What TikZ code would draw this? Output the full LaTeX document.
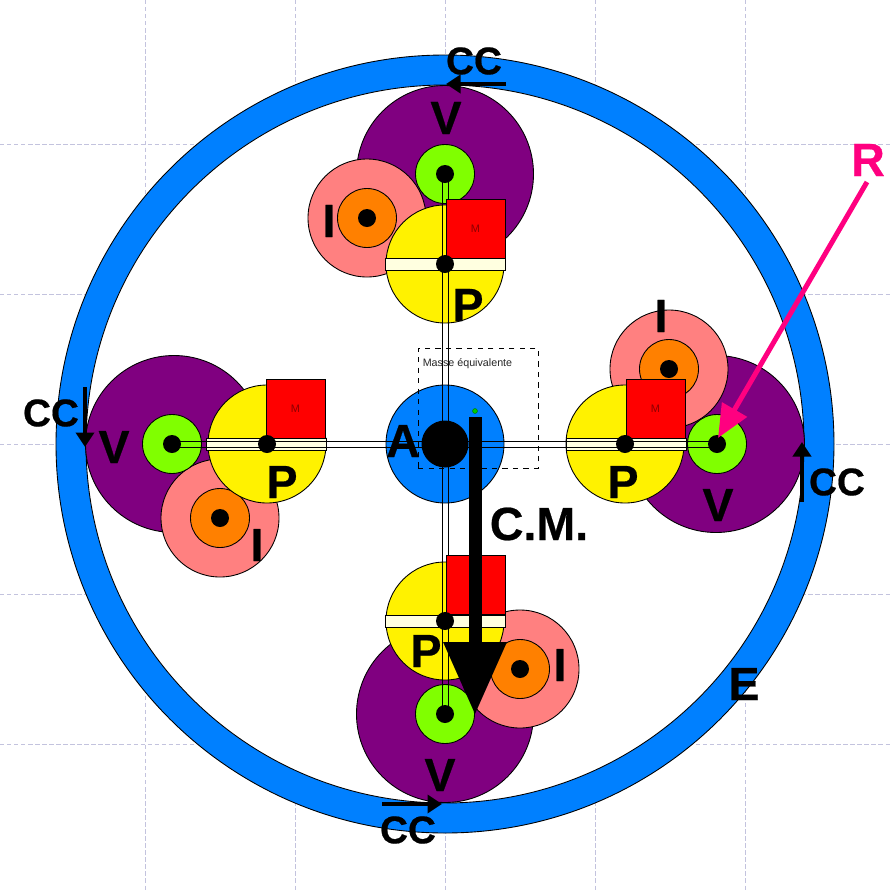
\documentclass[tikz,border=0pt]{standalone}
\usepackage{fontspec}
\setmainfont[BoldFeatures={FakeBold=0.5}]{Liberation Sans}
\usetikzlibrary{arrows.meta}
\definecolor{ringblue}{RGB}{0,128,255}
\definecolor{planetv}{RGB}{128,0,128}
\definecolor{camgreen}{RGB}{128,255,0}
\definecolor{salmon}{RGB}{255,128,128}
\definecolor{camorange}{RGB}{255,128,0}
\definecolor{barcream}{RGB}{255,255,224}
\definecolor{hotpink}{RGB}{255,0,128}
\definecolor{gridline}{RGB}{195,195,222}

\tikzset{
  disc/.style={circle, draw=black, line width=0.5pt, inner sep=0pt, minimum size=#1*0.02cm},
  pin/.style={circle, fill=black, inner sep=0pt, minimum size=#1*0.02cm},
  barbox/.style={draw=black, line width=0.5pt, fill=barcream, inner sep=0pt, minimum width=2.4cm, minimum height=0.24cm},
  massbox/.style={draw=black, line width=0.5pt, fill=red, text=red!55!black, inner sep=0pt, minimum width=1.18cm, minimum height=1.18cm, font=\fontsize{6.2}{7}\selectfont},
  lbl/.style={font=\fontsize{26.5}{28}\selectfont\bfseries, inner sep=0pt},
  cclbl/.style={font=\fontsize{22}{24}\selectfont\bfseries, inner sep=0pt},
  rod/.style={draw=black, line width=0.5pt},
  spin/.style={line width=2pt, -{Triangle[length=0.29cm, width=0.36cm]}}
}

\begin{document}
\begin{tikzpicture}[x=0.02cm, y=-0.02cm]
  \useasboundingbox (0,0) rectangle (890,890);

  % Grid
  \foreach \gridpos in {145,295,445,595,745} {
    \draw[gridline, line width=0.4pt, dash pattern=on 2.5pt off 1.5pt] (\gridpos,0) -- (\gridpos,890);
    \draw[gridline, line width=0.4pt, dash pattern=on 2.5pt off 1.5pt] (0,\gridpos-1) -- (890,\gridpos-1);
  }

  % Ring
  \node[disc=778, fill=ringblue] (ringout) at (445,444) {};
  \node[disc=718, fill=white] (ringin) at (445,444) {};
  \node[lbl] (ringlbl) at (744,684) {E};

  % Big discs
  \node[disc=177, fill=planetv] (vt) at (445,174) {};
  \node[disc=177, fill=planetv] (vl) at (174,444) {};
  \node[disc=177, fill=planetv] (vr) at (716,444) {};
  \node[disc=177, fill=planetv] (vb) at (445,714) {};

  % Small discs
  \node[disc=118, fill=salmon] (it) at (367,218) {};
  \node[disc=59, fill=camorange] (ot) at (367,218) {};
  \node[disc=118, fill=salmon] (il) at (220,518) {};
  \node[disc=59, fill=camorange] (ol) at (220,518) {};
  \node[disc=118, fill=salmon] (ir) at (669,369) {};
  \node[disc=59, fill=camorange] (or) at (669,369) {};
  \node[disc=118, fill=salmon] (ib) at (520,669) {};
  \node[disc=59, fill=camorange] (ob) at (520,669) {};

  % Green hubs
  \node[disc=59, fill=camgreen] (gt) at (445,174) {};
  \node[disc=59, fill=camgreen] (gl) at (172,444) {};
  \node[disc=59, fill=camgreen] (gr) at (717,444) {};
  \node[disc=59, fill=camgreen] (gb) at (445,714) {};

  % Yellow discs
  \node[disc=118, fill=yellow] (pt) at (445,264) {};
  \node[disc=118, fill=yellow] (pl) at (267,444) {};
  \node[disc=118, fill=yellow] (pr) at (625,444) {};
  \node[disc=118, fill=yellow] (pb) at (445,621) {};

  % Centre
  \node[disc=118, fill=ringblue] (hub) at (445,444) {};

  % Bars
  \node[barbox] (bt) at (445,264) {};
  \node[barbox] (bl) at (266,444) {};
  \node[barbox] (br) at (626,444) {};
  \node[barbox] (bb) at (445,621) {};

  % Rods
  \draw[rod] ([xshift=-0.06cm]gt.center) -- ([xshift=-0.06cm]gb.center);
  \draw[rod] ([xshift=0.06cm]gt.center) -- ([xshift=0.06cm]gb.center);
  \draw[rod] ([yshift=0.06cm]gl.center) -- ([yshift=0.06cm]gr.center);
  \draw[rod] ([yshift=-0.06cm]gl.center) -- ([yshift=-0.06cm]gr.center);

  % Masses
  \node[massbox] (mt) at (475.5,228.5) {M};
  \node[massbox] (ml) at (295.5,408.5) {M};
  \node[massbox] (mr) at (655.5,408.5) {M};
  \node[massbox] (mb) at (475.5,585) {M};

  % Pins
  \foreach \pinname/\pinpos in {n1/gt, n2/gl, n3/gr, n4/gb, n5/ot, n6/ol, n7/or, n8/ob, n9/pt, n10/pl, n11/pr, n12/pb} {
    \node[pin=18] (\pinname) at (\pinpos) {};
  }
  \node[pin=47] (axle) at (445,444) {};

  % Equivalent mass
  \node[draw=black, line width=0.5pt, dashed, inner sep=0pt, minimum width=2.4cm, minimum height=2.4cm] (eqbox) at (478,408) {};
  \node[font=\fontsize{6.1}{7}\selectfont, inner sep=0pt, text=black!85] (eqlbl) at (467.5,364) {Masse équivalente};
  \node[circle, draw=black!60!green, fill=green!80!black, line width=0.2pt, inner sep=0pt, minimum size=0.1cm] (eqdot) at (475,411) {};

  % Labels
  \node[lbl] (lvt) at (446,118) {V};
  \node[lbl] (lit) at (329,221) {I};
  \node[lbl] (lpt) at (468,305) {P};
  \node[lbl] (lvl) at (114,447) {V};
  \node[lbl] (lpl) at (282,482) {P};
  \node[lbl] (lil) at (257,545) {I};
  \node[lbl] (lir) at (661,316) {I};
  \node[lbl] (lpr) at (623,482) {P};
  \node[lbl] (lvr) at (718,505) {V};
  \node[lbl] (lpb) at (426,651) {P};
  \node[lbl] (lib) at (560,665) {I};
  \node[lbl] (lvb) at (440,775) {V};
  \node[lbl] (lhub) at (403,441) {A};
  \node[lbl] (lcm) at (539,524) {C.M.};
  \node[lbl, text=hotpink] (lr) at (868,160) {R};

  % Rotation arrows
  \coordinate (ct0) at (506,84);
  \coordinate (ct1) at (446,84);
  \coordinate (cl0) at (85,387);
  \coordinate (cl1) at (85,447);
  \coordinate (cr0) at (802,502);
  \coordinate (cr1) at (802,442);
  \coordinate (cb0) at (382,804);
  \coordinate (cb1) at (442,804);
  \draw[spin] (ct0) -- (ct1);
  \draw[spin] (cl0) -- (cl1);
  \draw[spin] (cr0) -- (cr1);
  \draw[spin] (cb0) -- (cb1);
  \node[cclbl] (cct) at (474,61) {CC};
  \node[cclbl] (ccl) at (51,413) {CC};
  \node[cclbl] (ccr) at (837,482) {CC};
  \node[cclbl] (ccb) at (408,830) {CC};

  % Force arrows
  \coordinate (cm0) at (475,417);
  \coordinate (cm1) at (475,715);
  \draw[line width=13*0.02cm, -{Triangle[length=1.46cm, width=1.2cm]}] (cm0) -- (cm1);
  \coordinate (r0) at (867,182);
  \coordinate (r1) at (718,438);
  \draw[hotpink, line width=0.1cm, -{Triangle[length=0.66cm, width=0.56cm]}] (r0) -- (r1);
\end{tikzpicture}
\end{document}
